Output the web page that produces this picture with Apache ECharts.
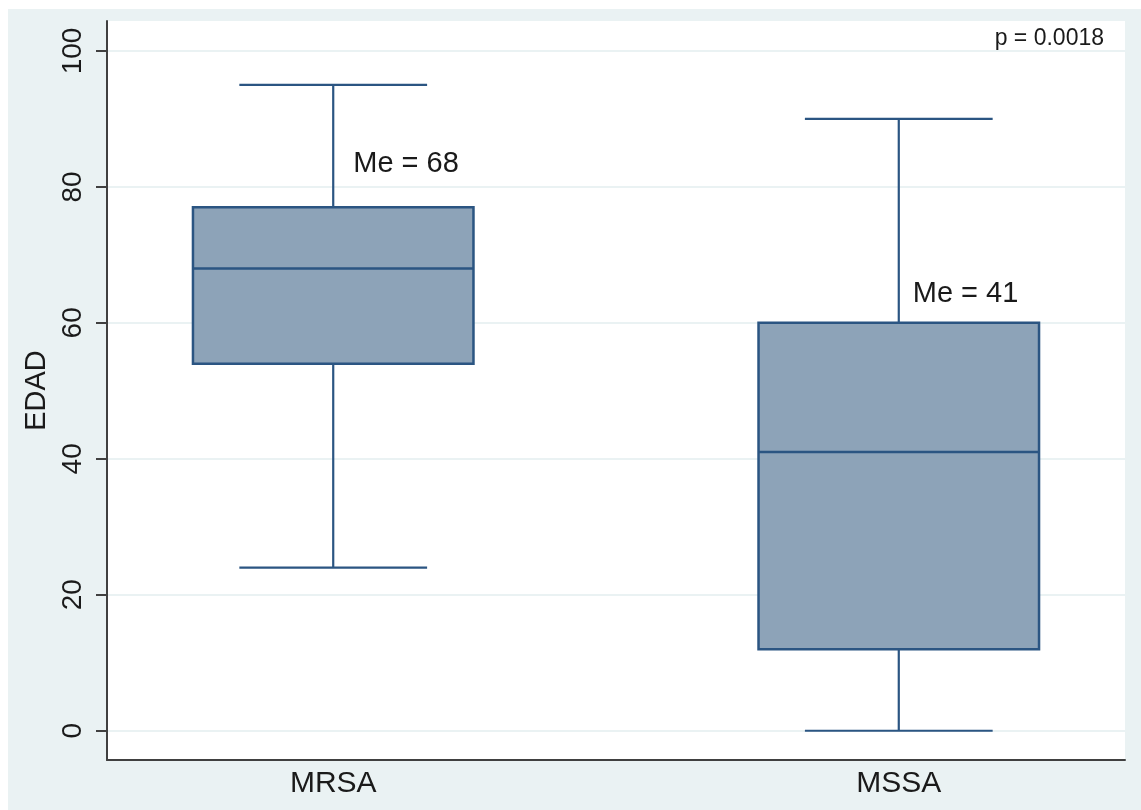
<!DOCTYPE html>
<html>
<head>
<meta charset="utf-8">
<script src="https://cdn.jsdelivr.net/npm/echarts@6/dist/echarts.min.js"></script>
<style>
  html, body { margin: 0; padding: 0; background: #ffffff; }
  #chart { width: 1141px; height: 810px; }
</style>
</head>
<body>
<div id="chart"></div>
<script>
// Age (EDAD) by group: five-number summaries per group
const categories   = ['MRSA', 'MSSA'];
const lowerWhisker = [24, 0];
const q1           = [54, 12];
const median       = [68, 41];
const q3           = [77, 60];
const upperWhisker = [95, 90];
const yTicks       = [0, 20, 40, 60, 80, 100];
const medianLabelY = [83.3, 64.2];   // vertical position of the "Me = ..." notes
const pValueText   = 'p = 0.0018';

// Groups sit on slots 2 and 7 of a 0..9 horizontal scale
const groupSlots = [2, 7];
const labelOffsets = [20, 14];

const boxData = categories.map((c, i) => [
  groupSlots[i], lowerWhisker[i], q1[i], median[i], q3[i], upperWhisker[i], medianLabelY[i], i
]);

const FONT = '"Liberation Sans", Arial, sans-serif';
const LINE = '#2B5582';
const FILL = '#8DA3B8';
const TEXT = '#1a1a1a';
const AXIS = '#404040';
const BG   = '#EAF2F3';

const chart = echarts.init(document.getElementById('chart'), null, { renderer: 'canvas' });

chart.setOption({
  animation: false,
  backgroundColor: '#ffffff',
  graphic: [
    {
      type: 'rect', z: -10, silent: true,
      shape: { x: 8, y: 9, width: 1133, height: 801 },
      style: { fill: BG }
    },
    {
      type: 'text', z: 10, silent: true,
      style: {
        text: pValueText, x: 1104, y: 39, align: 'right', verticalAlign: 'middle',
        font: '23px ' + FONT, fill: TEXT
      }
    }
  ],
  grid: {
    left: 107, right: 16, top: 21, bottom: 50,
    show: true, backgroundColor: '#ffffff', borderWidth: 0
  },
  xAxis: {
    type: 'value', min: 0, max: 9, interval: 1,
    axisLine: { show: true, onZero: false, lineStyle: { color: AXIS, width: 2 } },
    axisTick: { show: false },
    splitLine: { show: false },
    axisLabel: {
      fontSize: 30, fontFamily: FONT, color: TEXT, margin: 9,
      formatter: v => {
        const k = groupSlots.indexOf(v);
        return k >= 0 ? categories[k] : '';
      }
    }
  },
  yAxis: {
    type: 'value', min: -4.3, max: 104.4,
    name: 'EDAD', nameLocation: 'middle', nameRotate: 90, nameGap: 52,
    nameTextStyle: { fontSize: 29, fontFamily: FONT, color: TEXT },
    axisLine: { show: true, onZero: false, lineStyle: { color: AXIS, width: 2 } },
    axisTick: { show: true, customValues: yTicks, length: 11, lineStyle: { color: AXIS, width: 2 } },
    axisLabel: {
      customValues: yTicks, rotate: 90, margin: 20,
      fontSize: 28, fontFamily: FONT, color: TEXT
    },
    splitLine: { show: true, lineStyle: { color: BG, width: 2 } }
  },
  series: [{
    type: 'custom',
    clip: false,
    data: boxData,
    renderItem: (params, api) => {
      const x = api.value(0);
      const pLow  = api.coord([x, api.value(1)]);
      const pQ1   = api.coord([x, api.value(2)]);
      const pMed  = api.coord([x, api.value(3)]);
      const pQ3   = api.coord([x, api.value(4)]);
      const pHigh = api.coord([x, api.value(5)]);
      const pLab  = api.coord([x, api.value(6)]);
      const idx = api.value(7);
      const unit = api.size([1, 0])[0];
      const boxHalf = unit * 1.24;
      const capHalf = unit * 0.83;
      const cx = pMed[0];
      const lineStyle = { stroke: LINE, lineWidth: 2.2 };
      return {
        type: 'group',
        children: [
          { type: 'line', shape: { x1: cx, y1: pQ3[1], x2: cx, y2: pHigh[1] }, style: lineStyle },
          { type: 'line', shape: { x1: cx, y1: pQ1[1], x2: cx, y2: pLow[1] }, style: lineStyle },
          { type: 'line', shape: { x1: cx - capHalf, y1: pHigh[1], x2: cx + capHalf, y2: pHigh[1] }, style: lineStyle },
          { type: 'line', shape: { x1: cx - capHalf, y1: pLow[1], x2: cx + capHalf, y2: pLow[1] }, style: lineStyle },
          {
            type: 'rect',
            shape: { x: cx - boxHalf, y: pQ3[1], width: boxHalf * 2, height: pQ1[1] - pQ3[1] },
            style: { fill: FILL, stroke: LINE, lineWidth: 2.5 }
          },
          { type: 'line', shape: { x1: cx - boxHalf, y1: pMed[1], x2: cx + boxHalf, y2: pMed[1] }, style: { stroke: LINE, lineWidth: 2.5 } },
          {
            type: 'text',
            style: {
              text: 'Me = ' + api.value(3),
              x: cx + labelOffsets[idx], y: pLab[1],
              align: 'left', verticalAlign: 'middle',
              font: '29px ' + FONT, fill: TEXT
            }
          }
        ]
      };
    }
  }]
});
</script>
</body>
</html>
